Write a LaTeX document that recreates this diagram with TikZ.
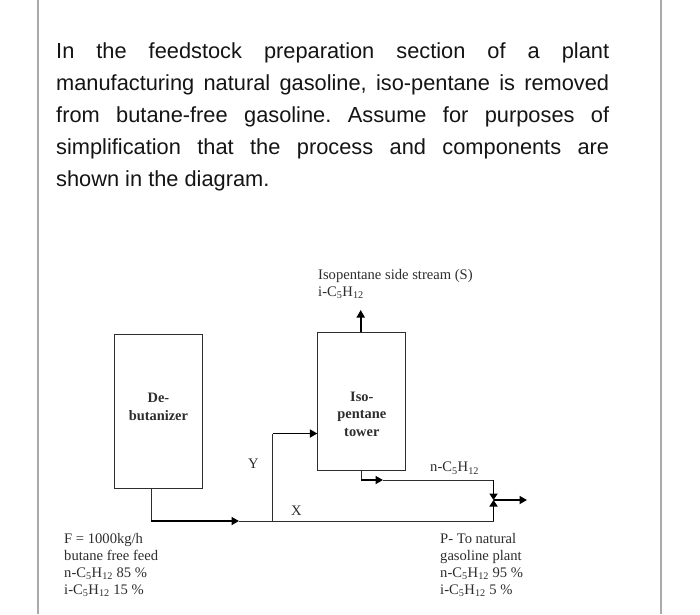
\documentclass[tikz,border=0pt]{standalone}
\usepackage{xcolor}
\usepackage{fontspec}
\setmainfont{Liberation Serif}
\newfontfamily\bodyfont{Liberation Sans}
\usetikzlibrary{arrows.meta,positioning}
\definecolor{edgegray}{RGB}{170,170,170}
\definecolor{inkgray}{RGB}{45,45,45}
\definecolor{bodyink}{RGB}{20,20,20}
\newcommand{\pent}[1]{#1-C\textsubscript{5}H\textsubscript{12}}
\hyphenpenalty=10000
\frenchspacing
\tikzset{
  columnbox/.style={draw=inkgray, line width=0.9pt, minimum width=88pt},
  columnlabel/.style={align=center, inner sep=0pt,
    font=\fontsize{14.4}{17.5}\selectfont\bfseries, text=inkgray},
  streamlabel/.style={align=left, inner sep=0pt, anchor=north west,
    font=\fontsize{14.6}{17}\selectfont, text=inkgray},
  bodytext/.style={align=justify, text width=553pt, inner sep=0pt, anchor=north west,
    font=\fontsize{21.8}{32}\bodyfont, text=bodyink},
  pagerule/.style={draw=edgegray, line width=1.2pt},
  thinline/.style={draw=inkgray, line width=0.9pt},
  flow/.style={-{Triangle[length=7.5pt,width=8pt]}, line width=1.7pt, draw=black},
  valvetip/.style={-{Triangle[length=6.5pt,width=8pt]}, line width=1.7pt, draw=black}
}

\begin{document}
\begin{tikzpicture}[x=1pt,y=-1pt]
\useasboundingbox (0,0) rectangle (700,614);
\coordinate (ruletopl) at (38,0);
\coordinate (rulebotl) at (38,614);
\coordinate (ruletopr) at (661,0);
\coordinate (rulebotr) at (661,614);
\draw[pagerule] (ruletopl)--(rulebotl);
\draw[pagerule] (ruletopr)--(rulebotr);

\node[bodytext] (intro) at (56,42) {In the feedstock preparation section of a plant manufacturing natural gasoline, iso-pentane is removed from butane-free gasoline. Assume for purposes of simplification that the process and components are\linebreak shown in the diagram.};

\node[columnbox, minimum height=154pt] (debut) at (158.4,411) {};
\node[columnbox, minimum height=138pt, right=114.5pt of debut.north east, anchor=north west, yshift=2pt] (iso) {};
\node[columnlabel] (debutname) at ([yshift=4pt]debut.center) {De-\\butanizer};
\node[columnlabel] (isoname) at ([yshift=-13pt]iso.center) {Iso-\\pentane\\tower};

\coordinate (feedturn) at (151,521);
\coordinate (feedhead) at (239,521);
\coordinate (xturn) at (272.7,521);
\coordinate (yturn) at (272.7,433.5);
\coordinate (valveturn) at (493.5,521);
\coordinate (valve) at (493.5,500);
\coordinate (bottomturn) at (361,480);
\coordinate (bottomhead) at (383,480);
\coordinate (bottomend) at (493.5,480);
\coordinate (sidehead) at (360.7,310);
\coordinate (producthead) at (527,500);

\draw[thinline] (debut.south -| feedturn)--(feedturn);
\draw[flow] (feedturn)--(feedhead);
\draw[thinline] (feedhead)--(valveturn);
\draw[thinline] (xturn)--(yturn);
\draw[flow] (yturn)--(yturn -| iso.west);
\draw[flow] (iso.north -| sidehead)--(sidehead);
\draw[thinline] (iso.south -| bottomturn)--(bottomturn);
\draw[flow] (bottomturn)--(bottomhead);
\draw[thinline] (bottomhead)--(bottomend);
\draw[valvetip] (bottomend)--(valve);
\draw[valvetip] (valveturn)--(valve);
\draw[flow] (valve)--(producthead);

\node[streamlabel] (side) at (318,269) {Isopentane side stream (S)\\\pent{i}};
\node[streamlabel] (feed) at (64,533) {F = 1000kg/h\\butane free feed\\\pent{n} 85 \%\\\pent{i} 15 \%};
\node[streamlabel] (product) at (440,533) {P- To natural\\gasoline plant\\\pent{n} 95 \%\\\pent{i} 5 \%};
\node[streamlabel] (top) at (430,462) {\pent{n}};
\node[streamlabel] (ylabel) at (248,459) {Y};
\node[streamlabel] (xlabel) at (291,506) {X};
\end{tikzpicture}
\end{document}
